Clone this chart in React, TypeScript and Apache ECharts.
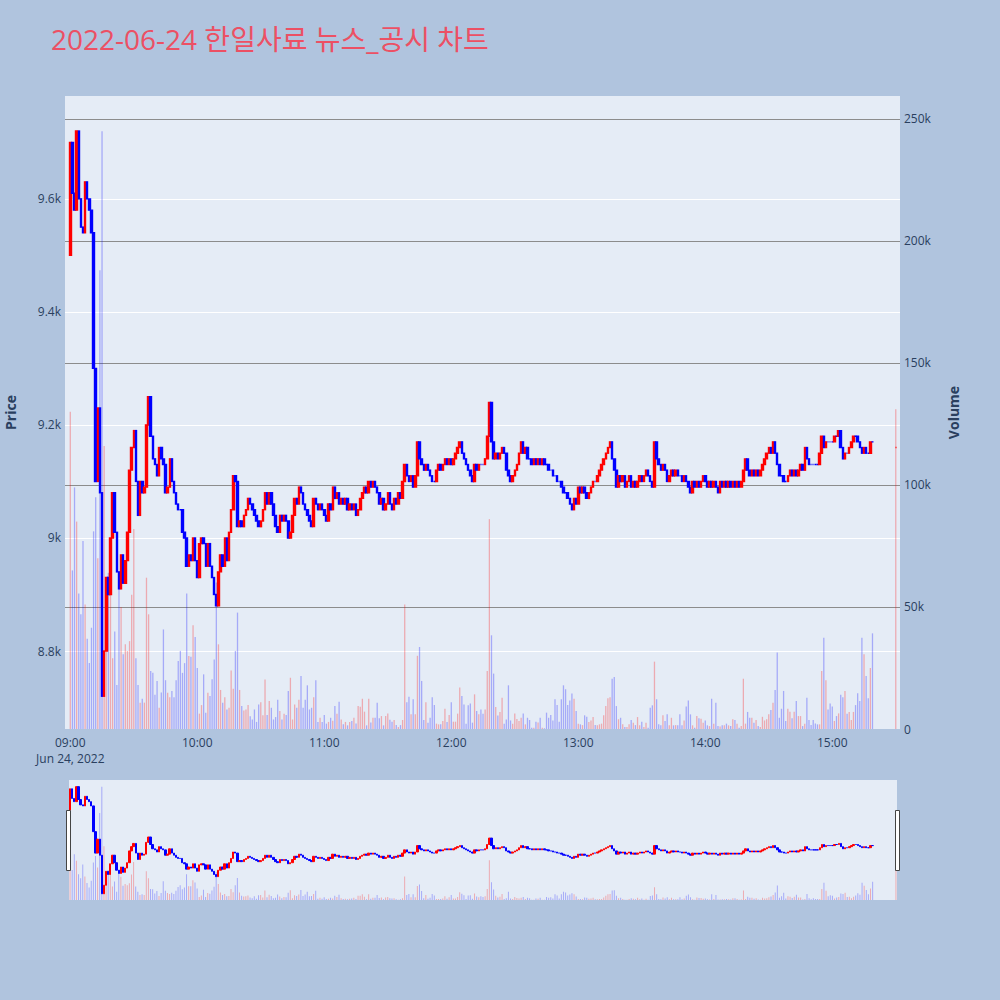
import { useEffect, useRef } from 'react';
import * as echarts from 'echarts';

const TITLE = '2022-06-24 한일사료 뉴스_공시 차트';
const DATE_LABEL = 'Jun 24, 2022';
const SESSION_OPEN = 9 * 60; // 09:00, minutes from midnight
const FIRST_OPEN = 9500;

// 1-minute closes, 09:00 .. 15:19 (each candle opens at the previous close)
const CLOSE = [
  9700, 9610, 9580, 9720, 9600, 9550, 9540, 9630, 9600, 9580,
  9540, 9300, 9100, 9230, 9080, 8720, 8800, 8930, 8900, 9000,
  9080, 9010, 8940, 8910, 8970, 8920, 8960, 9010, 9120, 9160,
  9190, 9100, 9040, 9100, 9080, 9090, 9200, 9250, 9180, 9140,
  9130, 9110, 9160, 9140, 9130, 9080, 9090, 9140, 9100, 9080,
  9060, 9050, 9050, 9010, 9000, 8950, 8970, 8960, 9000, 8960,
  8930, 8990, 9000, 8990, 8950, 8990, 8950, 8930, 8900, 8880,
  8940, 8970, 8950, 9000, 8960, 9010, 9050, 9110, 9100, 9020,
  9030, 9020, 9040, 9050, 9070, 9060, 9050, 9040, 9030, 9020,
  9030, 9050, 9080, 9060, 9080, 9060, 9040, 9020, 9010, 9040,
  9030, 9040, 9030, 9000, 9010, 9040, 9070, 9060, 9090, 9080,
  9060, 9050, 9040, 9030, 9020, 9070, 9060, 9050, 9060, 9050,
  9040, 9030, 9060, 9050, 9090, 9070, 9080, 9060, 9070, 9060,
  9070, 9050, 9060, 9050, 9060, 9040, 9050, 9070, 9080, 9090,
  9080, 9100, 9090, 9100, 9090, 9080, 9060, 9070, 9050, 9060,
  9080, 9060, 9050, 9070, 9060, 9080, 9070, 9100, 9130, 9110,
  9100, 9110, 9090, 9110, 9170, 9140, 9130, 9120, 9130, 9120,
  9110, 9100, 9100, 9120, 9130, 9120, 9130, 9140, 9130, 9140,
  9130, 9140, 9150, 9160, 9170, 9150, 9140, 9130, 9120, 9110,
  9100, 9130, 9120, 9130, 9130, 9130, 9140, 9180, 9240, 9170,
  9140, 9150, 9140, 9150, 9160, 9150, 9120, 9110, 9100, 9110,
  9120, 9130, 9150, 9170, 9150, 9160, 9140, 9140, 9130, 9140,
  9130, 9140, 9130, 9140, 9130, 9130, 9120, 9120, 9110, 9110,
  9100, 9100, 9090, 9080, 9080, 9070, 9060, 9050, 9070, 9060,
  9090, 9080, 9090, 9080, 9070, 9080, 9090, 9100, 9100, 9110,
  9120, 9130, 9140, 9150, 9160, 9170, 9140, 9120, 9090, 9110,
  9100, 9110, 9090, 9100, 9110, 9090, 9100, 9090, 9100, 9110,
  9100, 9110, 9120, 9110, 9100, 9090, 9170, 9140, 9130, 9120,
  9130, 9120, 9100, 9110, 9120, 9110, 9120, 9110, 9110, 9100,
  9110, 9100, 9090, 9080, 9100, 9090, 9100, 9090, 9100, 9110,
  9100, 9090, 9100, 9090, 9100, 9090, 9080, 9100, 9090, 9100,
  9090, 9100, 9090, 9100, 9090, 9100, 9090, 9100, 9120, 9140,
  9120, 9110, 9120, 9110, 9120, 9110, 9120, 9130, 9140, 9150,
  9160, 9150, 9170, 9150, 9130, 9110, 9110, 9100, 9100, 9110,
  9120, 9110, 9120, 9110, 9120, 9130, 9120, 9160, 9140, 9130,
  9130, 9130, 9130, 9130, 9150, 9180, 9160, 9170, 9170, 9170,
  9170, 9180, 9180, 9190, 9160, 9140, 9150, 9150, 9160, 9170,
  9180, 9180, 9170, 9160, 9150, 9160, 9150, 9150, 9170, 9170,
];

// 1-minute volume in thousands of shares, 09:00 .. 15:19
const VOLUME_K = [
  130, 65, 99, 85, 55.5, 47, 77, 51, 37, 27,
  41.5, 81, 95, 70, 188, 245, 116, 50, 64, 58,
  29, 40, 18, 60, 50, 30.6, 34.7, 32, 36, 55,
  82, 29, 18, 10.8, 12.4, 10.8, 62, 47, 23.8, 23,
  14, 19.7, 8.7, 15, 40.8, 20, 14.9, 13, 15.6, 13,
  20, 27.9, 32, 23, 27, 55.5, 29.9, 29.6, 42.5, 37.7,
  25, 6.3, 9.8, 22.4, 6.7, 14.9, 13.5, 20.4, 28.5, 60,
  34.7, 16, 10.8, 13, 8, 8.7, 24, 16.5, 32, 47.7,
  16, 9.4, 7.6, 8, 9.8, 5.2, 3.9, 8, 2.9, 10,
  11, 5.6, 20.3, 5.7, 11.5, 8.7, 3.9, 4.9, 12, 7.4,
  3.9, 6.3, 5.7, 15.6, 21, 3.9, 10, 8.7, 12, 21.7,
  8.7, 12, 17.9, 8, 8.7, 13, 20, 2.9, 4.6, 2.9,
  5.7, 2.2, 2.9, 4.6, 3.4, 9.4, 6.3, 11.2, 3.9, 1.9,
  2.9, 1.5, 2.9, 3.3, 4.6, 2.3, 9.4, 9.1, 12.4, 7.1,
  1.5, 12.4, 2.7, 4.6, 4.6, 10.8, 4.4, 5.3, 1.5, 5.3,
  6.4, 3.8, 3, 3.7, 1.6, 0.8, 1.6, 3.7, 51, 11,
  13.2, 6, 12.2, 6, 30, 33.6, 19.7, 3.7, 11, 2.6,
  4.6, 13, 9.8, 2.2, 1.9, 1.9, 3.3, 8.3, 2.9, 5.7,
  11, 3, 3, 6.3, 17, 13.5, 10, 2.2, 9.7, 10.4,
  2.6, 14.2, 7.4, 6, 8, 6.3, 8, 23.8, 86, 38.4,
  22.7, 9, 5.5, 7, 12.8, 2.2, 3.9, 17.9, 3.5, 2.2,
  6.4, 4.1, 3.3, 4.6, 6.4, 1.9, 4.6, 3.7, 0.5, 0.5,
  3, 2.7, 4.6, 0.5, 0.3, 6.7, 4.6, 5.7, 3.5, 12.2,
  9.8, 3, 12.2, 17.9, 16.3, 9.8, 11.7, 14.5, 12.4, 7.4,
  2.2, 1.9, 1.6, 5.6, 5, 2.9, 3.5, 4.9, 1.6, 1.5,
  1.9, 2.2, 5.6, 9.4, 12.6, 13, 20.6, 21.3, 9.4, 4,
  4.6, 1.9, 0.8, 0.8, 1.9, 3.7, 2.6, 1.6, 4.9, 1.5,
  3, 0.8, 2.6, 0.5, 8.7, 9.7, 27.6, 12.2, 1.9, 1.5,
  5.6, 3.3, 6, 1.5, 4.6, 1.5, 1.6, 1.5, 6, 1.5,
  3.5, 9.2, 11.7, 6, 1.5, 0.5, 5.3, 4.4, 4.2, 2.6,
  3.5, 1.5, 1.2, 12.4, 2.2, 10.8, 1.2, 1, 1.5, 1.5,
  2.2, 1.5, 1.2, 4, 3.7, 2.2, 0.5, 1.2, 20.6, 2.2,
  7, 4.6, 4.6, 2.6, 3.7, 1.2, 0.8, 5, 3.5, 4,
  6, 7.8, 10.8, 16, 31.3, 4.6, 8.3, 15.6, 3.3, 8.3,
  7.1, 4.4, 7.1, 11.5, 5.3, 5.3, 1.2, 2.2, 12.8, 3.7,
  1.6, 3.7, 2.3, 1.9, 1.9, 23.8, 37.4, 20, 8, 10.5,
  9.2, 3.3, 5.3, 6.4, 14, 13, 15.6, 6.3, 7, 3.7,
  7, 9.8, 14.6, 11.5, 37.4, 30.6, 21.7, 12.6, 25, 39.2,
];

// 15:30 closing auction
const AUCTION_MINUTE = 390;
const AUCTION_PRICE = 9160;
const AUCTION_VOLUME_K = 131;

const PRICE_MIN = 8662;
const PRICE_MAX = 9782;
const VOLUME_MAX = 259400;

const UP = '#ff0000';
const DOWN = '#0000ff';
const UP_VOL = 'rgba(255,0,0,0.28)';
const DOWN_VOL = 'rgba(0,0,255,0.28)';
const TEXT = '#2a3f5f';
const FONT = '"Open Sans", "Noto Sans CJK KR", sans-serif';

type Bar = { minute: number; open: number; close: number; vol: number; up: boolean };

function buildBars(): Bar[] {
  const bars: Bar[] = CLOSE.map((c, i) => {
    const o = i === 0 ? FIRST_OPEN : CLOSE[i - 1];
    return { minute: i, open: o, close: c, vol: VOLUME_K[i] * 1000, up: c > o };
  });
  bars.push({
    minute: AUCTION_MINUTE,
    open: AUCTION_PRICE,
    close: AUCTION_PRICE,
    vol: AUCTION_VOLUME_K * 1000,
    up: true,
  });
  return bars;
}

function fmtTime(v: number) {
  if (v < 0 || Math.abs(v % 60) > 1e-6) return '';
  const t = SESSION_OPEN + v;
  const hh = String(Math.floor(t / 60)).padStart(2, '0');
  const mm = String(t % 60).padStart(2, '0');
  return v === 0 ? `${hh}:${mm}\n${DATE_LABEL}` : `${hh}:${mm}`;
}

export default function App() {
  const ref = useRef<HTMLDivElement>(null);

  useEffect(() => {
    if (!ref.current) return;
    const chart = echarts.init(ref.current, undefined, { renderer: 'svg' });
    const bars = buildBars();

    const candleData = bars.map((b) => {
      const col = b.up ? UP : DOWN;
      return {
        value: [b.minute, b.open, b.close, Math.min(b.open, b.close), Math.max(b.open, b.close)],
        itemStyle: { color: col, color0: col, borderColor: col, borderColor0: col },
      };
    });
    const volData = bars.map((b) => ({
      value: [b.minute, b.vol],
      itemStyle: { color: b.up ? UP_VOL : DOWN_VOL },
    }));

    chart.setOption({
      animation: false,
      backgroundColor: '#b0c4de',
      textStyle: { fontFamily: FONT },
      title: {
        text: TITLE,
        left: 46,
        top: 20,
        textStyle: { color: '#ec5064', fontSize: 28, fontWeight: 'normal', fontFamily: FONT },
      },
      grid: [
        {
          left: 65, top: 96, width: 835, height: 633,
          show: true, backgroundColor: '#e5ecf6', borderWidth: 0,
          containLabel: false, outerBoundsMode: 'none',
        },
        {
          left: 69, top: 780, width: 828, height: 120,
          show: true, backgroundColor: '#e5ecf6', borderWidth: 0,
          containLabel: false, outerBoundsMode: 'none',
        },
      ],
      xAxis: [
        {
          type: 'value',
          gridIndex: 0,
          min: -2.5,
          max: 392,
          interval: 0.5,
          axisLine: { show: false },
          axisTick: { show: false },
          splitLine: { show: false },
          axisLabel: {
            formatter: fmtTime,
            color: TEXT,
            fontSize: 12,
            lineHeight: 16,
            margin: 5,
            showMinLabel: false,
            showMaxLabel: false,
          },
        },
        { type: 'value', gridIndex: 1, min: -0.5, max: 390.5, show: false },
      ],
      yAxis: [
        {
          type: 'value',
          gridIndex: 0,
          position: 'left',
          min: PRICE_MIN,
          max: PRICE_MAX,
          name: 'Price',
          nameLocation: 'middle',
          nameRotate: 90,
          nameGap: 48,
          nameTextStyle: { color: TEXT, fontSize: 14, fontWeight: 'bold' },
          axisLine: { show: false },
          axisTick: { show: false },
          splitLine: { showMinLine: false, showMaxLine: false, lineStyle: { color: '#ffffff', width: 1 } },
          axisLabel: {
            color: TEXT,
            fontSize: 12,
            margin: 4,
            showMinLabel: false,
            showMaxLabel: false,
            formatter: (v: number) => `${v / 1000}k`,
          },
        },
        {
          type: 'value',
          gridIndex: 0,
          position: 'right',
          min: 0,
          max: VOLUME_MAX,
          interval: 50000,
          name: 'Volume',
          nameLocation: 'middle',
          nameRotate: 90,
          nameGap: 46,
          nameTextStyle: { color: TEXT, fontSize: 14, fontWeight: 'bold' },
          axisLine: { show: false },
          axisTick: { show: false },
          splitLine: { showMinLine: false, showMaxLine: false, lineStyle: { color: '#8c8c8c', width: 1 } },
          axisLabel: {
            color: TEXT,
            fontSize: 12,
            margin: 4,
            showMaxLabel: false,
            formatter: (v: number) => (v === 0 ? '0' : `${v / 1000}k`),
          },
        },
        { type: 'value', gridIndex: 1, min: PRICE_MIN, max: PRICE_MAX, show: false },
        { type: 'value', gridIndex: 1, min: 0, max: VOLUME_MAX, show: false },
      ],
      graphic: [
        { type: 'rect', left: 66, top: 810, shape: { width: 4, height: 60 }, style: { fill: '#ffffff', stroke: '#444', lineWidth: 1 }, z: 100 },
        { type: 'rect', left: 895, top: 810, shape: { width: 4, height: 60 }, style: { fill: '#ffffff', stroke: '#444', lineWidth: 1 }, z: 100 },
      ],
      series: [
        {
          type: 'bar',
          xAxisIndex: 0,
          yAxisIndex: 1,
          barWidth: 1.3,
          data: volData,
          z: 1,
        },
        {
          type: 'candlestick',
          xAxisIndex: 0,
          yAxisIndex: 0,
          barWidth: 2,
          encode: { x: 0, y: [1, 2, 3, 4] },
          itemStyle: { color: UP, color0: DOWN, borderColor: UP, borderColor0: DOWN, borderWidth: 1.4 },
          data: candleData,
          z: 3,
        },
        {
          type: 'bar',
          xAxisIndex: 1,
          yAxisIndex: 3,
          barWidth: 1,
          data: volData,
          z: 1,
        },
        {
          type: 'candlestick',
          xAxisIndex: 1,
          yAxisIndex: 2,
          barWidth: 1.8,
          encode: { x: 0, y: [1, 2, 3, 4] },
          itemStyle: { color: UP, color0: DOWN, borderColor: UP, borderColor0: DOWN, borderWidth: 1 },
          data: candleData,
          z: 3,
        },
      ],
    });

    return () => chart.dispose();
  }, []);

  return (
    <div
      ref={ref}
      style={{ position: 'absolute', left: 0, top: 0, width: 1000, height: 1000 }}
    />
  );
}
